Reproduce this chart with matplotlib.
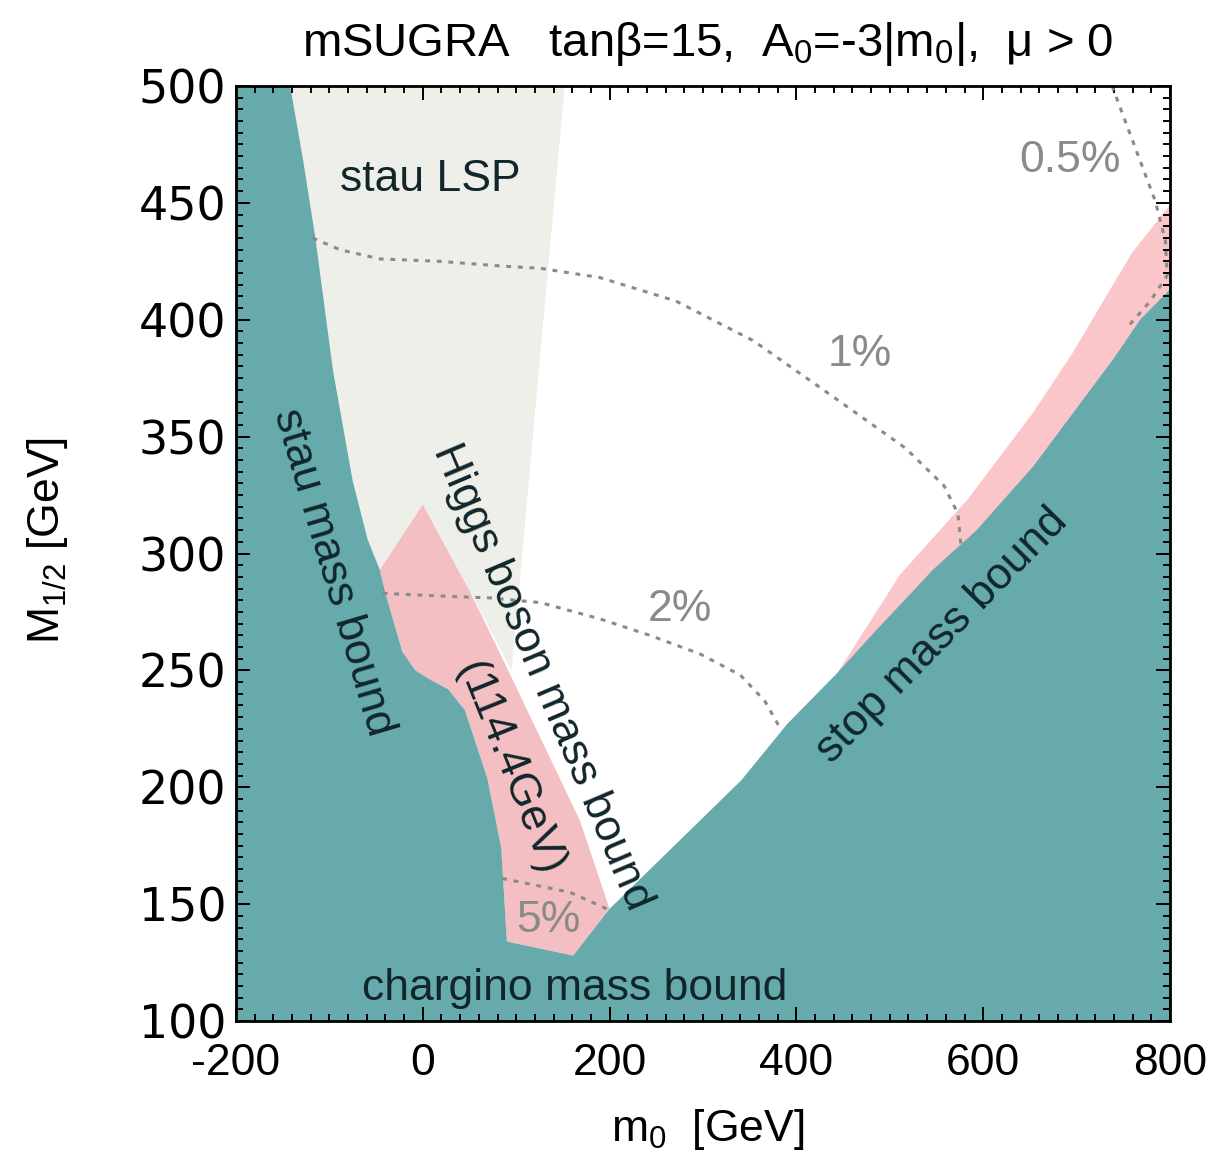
import matplotlib
matplotlib.use("Agg")
import matplotlib.pyplot as plt
from matplotlib.ticker import MultipleLocator

plt.rcParams['font.family'] = ['Liberation Sans', 'DejaVu Sans']
plt.rcParams['mathtext.fontset'] = 'custom'
plt.rcParams['mathtext.rm'] = 'Liberation Sans'
plt.rcParams['mathtext.it'] = 'Liberation Sans'
plt.rcParams['axes.unicode_minus'] = False

big = 32
teal = '#67aaab'
pink_l = '#f4bfc2'
pink_r = '#fbc6ca'
grey_lsp = '#efefea'
line_grey = '#8a8a8a'
ink = '#10262b'

# stau mass bound (teal / stau LSP border), top -> bottom
stau_x = [-142, -128, -115, -96, -75, -59, -46]
stau_y = [500, 468, 435, 378, 331, 306, 293]

# pink Higgs-bound region on the left
higgs_x = [0, -46, -40, -22, -8, 8, 27, 45, 69, 84, 90, 161, 200, 168, 83, 50]
higgs_y = [321, 293, 283, 258, 250, 246, 242, 233, 204, 174, 134, 128, 148, 186, 257, 284]

# stau LSP region right border
lsp_x = [50, 95, 102, 131, 152]
lsp_y = [284, 250, 280, 408, 500]

# stop mass bound (teal upper edge), left -> right
stop_x = [200, 341, 390, 444, 485, 518, 546, 593, 653, 696, 739, 768, 800]
stop_y = [148, 203, 227, 249, 267, 281, 293, 310, 337, 360, 383, 400, 413]

# pink band along the stop bound (upper edge)
band_x = [444, 511, 583, 653, 696, 733, 760, 800]
band_y = [249, 291, 323, 360, 386, 411, 429, 449]

# fine-tuning contours
c05_x = [738, 752, 768, 784, 795, 797, 779, 757]
c05_y = [500, 485, 468, 451, 434, 419, 408, 398]
c1_x = [-118, -89, -46, 18, 83, 126, 190, 271, 354, 436, 517, 558, 573, 576]
c1_y = [435, 430, 426, 425, 423, 422, 418, 408, 391, 368, 345, 329, 317, 304]
c2_x = [-43, 8, 72, 126, 190, 243, 297, 340, 366, 383]
c2_y = [283, 282, 281, 279, 272, 265, 257, 248, 237, 225]
c5_x = [85, 122, 158, 197]
c5_y = [161, 158, 155, 148]

fig = plt.figure(figsize=(12.24, 11.57), dpi=100)
ax = fig.add_axes([0.1928, 0.1175, 0.9559 - 0.1928, 0.9257 - 0.1175])
ax.set_xlim(-200, 800)
ax.set_ylim(100, 500)

# stau LSP region
ax.fill(stau_x + [higgs_x[0]] + lsp_x, stau_y + [higgs_y[0]] + lsp_y,
        color=grey_lsp, lw=0)

# pink regions
ax.fill(higgs_x, higgs_y, color=pink_l, lw=0)
ax.fill(band_x + [800, 444], band_y + [100, 100], color=pink_r, lw=0)

# teal excluded region
teal_x = [-200] + stau_x + higgs_x[2:12] + stop_x + [800, -200]
teal_y = [500] + stau_y + higgs_y[2:12] + stop_y + [100, 100]
ax.fill(teal_x, teal_y, color=teal, lw=0)

dot = (0, (1.6, 2.2))
for cx, cy in [(c05_x, c05_y), (c1_x, c1_y), (c2_x, c2_y), (c5_x, c5_y)]:
    ax.plot(cx, cy, color=line_grey, lw=2.2, ls=dot)

ax.text(693, 468, '0.5%', color=line_grey, fontsize=big, ha='center', va='center')
ax.text(468, 385, '1%', color=line_grey, fontsize=big, ha='center', va='center')
ax.text(275, 276, '2%', color=line_grey, fontsize=big, ha='center', va='center')
ax.text(134, 143, '5%', color=line_grey, fontsize=big, ha='center', va='center')

ax.text(8, 460, 'stau LSP', color=ink, fontsize=big, ha='center', va='center')
ax.text(-96, 292, 'stau mass bound', color=ink, fontsize=big, ha='center', va='center',
        rotation=-73.6, rotation_mode='anchor')
ax.text(128, 247, 'Higgs boson mass bound', color=ink, fontsize=big, ha='center',
        va='center', rotation=-67, rotation_mode='anchor')
ax.text(93, 208, '(114.4GeV)', color=ink, fontsize=big, ha='center', va='center',
        rotation=-68, rotation_mode='anchor')
ax.text(556, 265, 'stop mass bound', color=ink, fontsize=big, ha='center', va='center',
        rotation=45.5, rotation_mode='anchor')
ax.text(163, 114, 'chargino mass bound', color=ink, fontsize=big, ha='center', va='center')

ax.xaxis.set_major_locator(MultipleLocator(200))
ax.xaxis.set_minor_locator(MultipleLocator(20))
ax.yaxis.set_major_locator(MultipleLocator(50))
ax.yaxis.set_minor_locator(MultipleLocator(5))
ax.tick_params(which='both', direction='in', top=True, right=True, width=1.4)
ax.tick_params(which='major', length=10)
ax.tick_params(which='minor', length=5)
ax.tick_params(axis='x', labelsize=big, pad=16)
ax.tick_params(axis='y', labelsize=33, pad=7)
for lab in ax.get_yticklabels():
    lab.set_family('DejaVu Sans')
for s in ax.spines.values():
    s.set_linewidth(2)

ax.set_xlabel(r'm$_0$  [GeV]', fontsize=big)
ax.xaxis.set_label_coords(0.505, -0.092)
ax.set_ylabel(r'M$_{1/2}$ [GeV]', fontsize=big)
ax.yaxis.set_label_coords(-0.178, 0.514)

fig.text(0.578, 0.962, r'mSUGRA   tan$\beta$=15,  A$_0$=-3|m$_0$|,  $\mu$ > 0',
         fontsize=34, ha='center', va='center')

fig.savefig('out.png', dpi=100)
